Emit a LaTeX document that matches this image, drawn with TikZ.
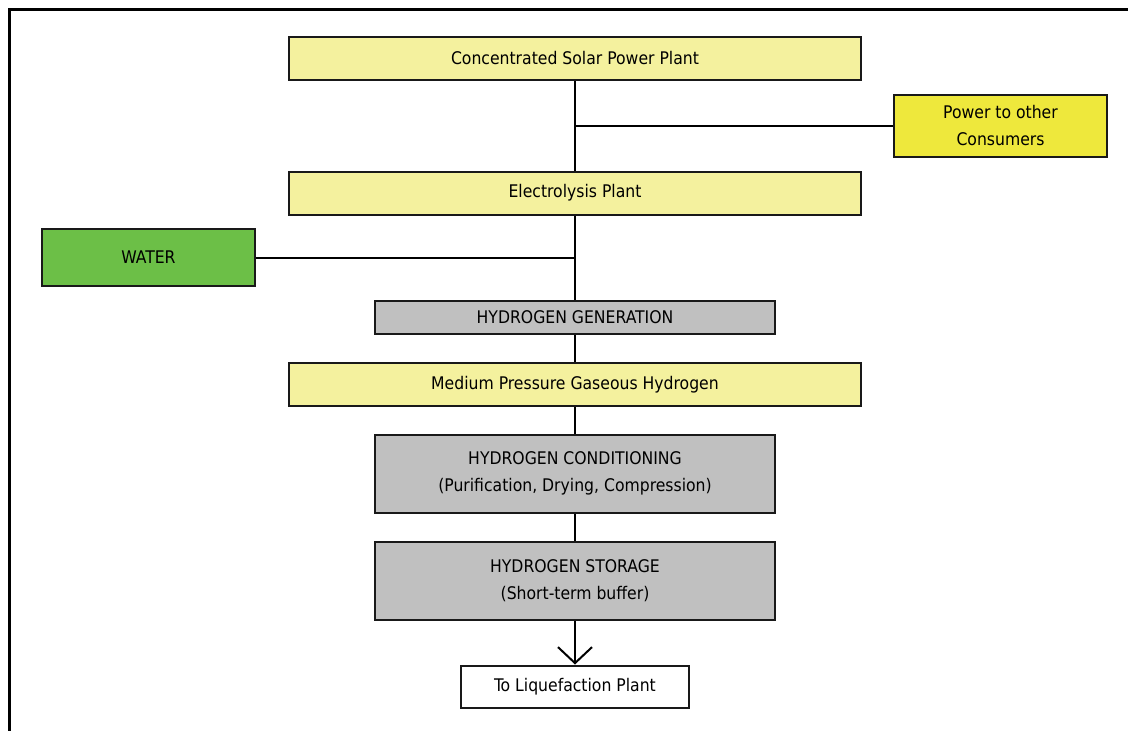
\documentclass[tikz,border=0pt]{standalone}
\usepackage{fontspec}
\setmainfont{DejaVu Sans Condensed}
\usetikzlibrary{arrows.meta}
\definecolor{paleyellow}{HTML}{F4F19E}
\definecolor{brightyellow}{HTML}{EEE83C}
\definecolor{watergreen}{HTML}{6CBF47}
\definecolor{stepgray}{HTML}{C0C0C0}
\begin{document}
\begin{tikzpicture}[x=1pt,y=-1pt,
  box/.style={draw=black!90, line width=2pt, rectangle, inner sep=0pt,
    align=center, font=\fontsize{17.4}{27}\selectfont},
  plant/.style={box, fill=paleyellow, minimum width=572pt, minimum height=43pt},
  stage/.style={box, fill=stepgray, minimum width=400pt},
  link/.style={line width=2pt, draw=black}]
\useasboundingbox (0,0) rectangle (1128,731);
% page frame (open on the right and bottom)
\draw[line width=3pt] (9.5,731) -- (9.5,9.5) -- (1128,9.5);

\node[plant] (csp) at (575,58.5) {Concentrated Solar Power Plant};
\node[box, fill=brightyellow, minimum width=213pt, minimum height=62pt] (power) at (1000.5,126)
  {Power to other\\Consumers};
\node[plant] (elec) at (575,193) {Electrolysis Plant};
\node[box, fill=watergreen, minimum width=213pt, minimum height=57pt] (water) at (148.5,257.5) {WATER};
\node[stage, minimum height=33pt] (hgen) at (575,317.5) {HYDROGEN GENERATION};
\node[plant] (medp) at (575,384.5) {Medium Pressure Gaseous Hydrogen};
\node[stage, minimum height=78pt] (cond) at (575,473.5)
  {HYDROGEN CONDITIONING\\(Purification, Drying, Compression)};
\node[stage, minimum height=78pt] (store) at (575,580.5)
  {HYDROGEN STORAGE\\(Short-term buffer)};
\node[box, fill=white, minimum width=228pt, minimum height=42pt] (liq) at (575,686.5) {To Liquefaction Plant};

\draw[link] (csp.south) -- (elec.north);
\draw[link] (power.west) -- (power.west -| csp.south);
\draw[link] (water.east) -- (water.east -| elec.south);
\draw[link] (elec.south) -- (hgen.north);
\draw[link] (hgen.south) -- (medp.north);
\draw[link] (medp.south) -- (cond.north);
\draw[link] (cond.south) -- (store.north);
\draw[link, -{Straight Barb[length=16pt, width=34pt, line width=2pt]}] (store.south) -- (liq.north);
\end{tikzpicture}
\end{document}
